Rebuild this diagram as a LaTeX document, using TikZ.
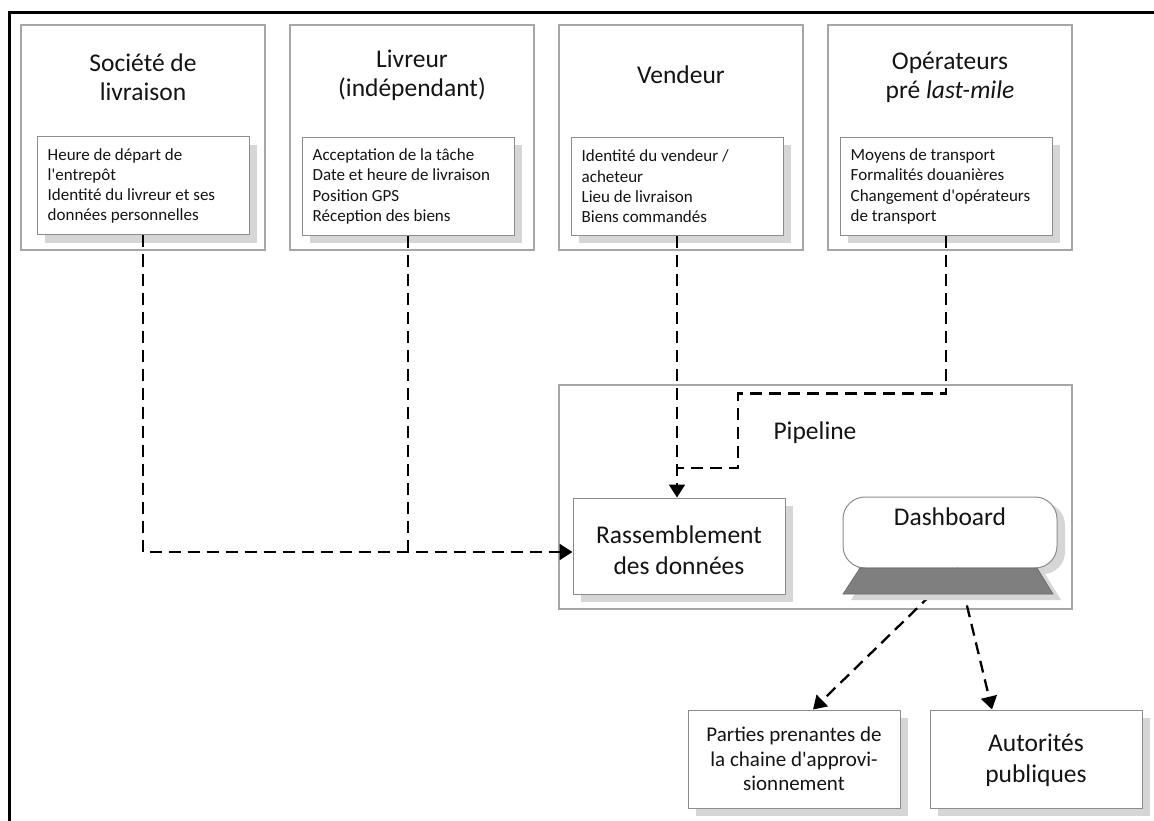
\documentclass[tikz,border=0pt]{standalone}
\usepackage{fontspec}
\setmainfont{Carlito}[Ligatures=TeXOff]
\usetikzlibrary{arrows.meta,shadows,calc}
\definecolor{boxgray}{HTML}{A6A6A6}
\definecolor{innergray}{HTML}{8C8C8C}
\definecolor{shadowgray}{HTML}{D6D6D6}
\definecolor{txt}{HTML}{141414}
\definecolor{trapgray}{HTML}{7F7F7F}
\begin{document}
\begin{tikzpicture}[x=1pt,y=-1pt,
  frame/.style={draw=black, line width=3pt},
  outerbox/.style={draw=boxgray, line width=1.2pt, fill=white, inner sep=0pt, minimum width=244pt, minimum height=225pt},
  innerbox/.style={draw=innergray, line width=1pt, fill=white, inner sep=0pt, minimum width=212pt, minimum height=98pt,
    drop shadow={shadow xshift=8pt, shadow yshift=-8pt, fill=shadowgray, opacity=1}},
  titletext/.style={text=txt, align=center, inner sep=0pt, font=\fontsize{25.5}{29}\selectfont},
  innertext/.style={text=txt, align=left, inner sep=0pt, anchor=west, font=\fontsize{17}{20.3}\selectfont},
  bigtext/.style={text=txt, align=center, inner sep=0pt, font=\fontsize{25.5}{31}\selectfont},
  dline/.style={draw=black, line width=2.3pt, dash pattern=on 12pt off 7pt},
  conn/.style={dline, -{Triangle[length=13pt,width=16pt]}},
]
\useasboundingbox (0,0) rectangle (1154,821);
\fill[white] (0,0) rectangle (1154,821);
\draw[frame] (1154,13) -| (9.5,821);

% top boxes
\node[outerbox] (b1) at (143,137.5) {};
\node[outerbox] (b2) at (412,137.5) {};
\node[outerbox] (b3) at (681,137.5) {};
\node[outerbox] (b4) at (950,137.5) {};

\node[titletext] (t1) at (143,77.5) {Société de\\livraison};
\node[titletext] (t2) at (412,75) {Livreur\\(indépendant)};
\node[titletext] (t3) at (681,75) {Vendeur};
\node[titletext] (t4) at (950,77.5) {Opérateurs\\pré \textit{last-mile}};

\node[innerbox] (i1) at (143,186) {};
\node[innerbox] (i2) at (408,186.5) {};
\node[innerbox] (i3) at (677,186.5) {};
\node[innerbox] (i4) at (946,186.5) {};

\node[innertext] (l1) at ([xshift=11pt]i1.west) {Heure de départ de\\l'entrepôt\\Identité du livreur et ses\\données personnelles};
\node[innertext] (l2) at ([xshift=11pt]i2.west) {Acceptation de la tâche\\Date et heure de livraison\\Position GPS\\Réception des biens};
\node[innertext] (l3) at ([xshift=11pt]i3.west) {Identité du vendeur /\\acheteur\\Lieu de livraison\\Biens commandés};
\node[innertext] (l4) at ([xshift=11pt]i4.west) {Moyens de transport\\Formalités douanières\\Changement d'opérateurs\\de transport};

% pipeline
\node[draw=boxgray, line width=1.2pt, fill=white, minimum width=513pt, minimum height=224pt, inner sep=0pt] (pipe) at (815.5,497) {};
\node[bigtext] (pl) at (815,433) {Pipeline};

\node[innerbox, minimum height=96pt] (rass) at (679,546) {};
\node[bigtext] (rt) at (679,550) {Rassemblement\\des données};

\node[draw=innergray, line width=1pt, fill=white, rounded corners=22pt, minimum width=214pt, minimum height=71pt, inner sep=0pt,
  drop shadow={shadow xshift=8pt, shadow yshift=-6pt, fill=shadowgray, opacity=1}] (dash) at (950,532.5) {};
\node[bigtext] (dt) at (950,517) {Dashboard};

% bottom boxes
\node[innerbox] (pp) at (794,759) {};
\node[text=txt, align=center, inner sep=0pt, font=\fontsize{21}{24.5}\selectfont] (ppt) at (794,759) {Parties prenantes de\\la chaine d'approvi-\\sionnement};
\node[innerbox] (au) at (1036,759) {};
\node[bigtext] (aut) at (1036,760) {Autorités\\publiques};

% connectors
\coordinate (m1) at (408,552);
\draw[conn] (i1.south) |- ([yshift=-6pt]rass.west);
\draw[dline] (i2.south) -- (m1);
\draw[conn] (i3.south) -- (i3.south |- rass.north);
\coordinate (j1) at (738,393.5);
\coordinate (j2) at (677,468);
\draw[dline] (i4.south) |- (j1) |- (j2);

\coordinate (ds) at ([xshift=8pt]dash.south);
\draw[conn] (ds) -- ([xshift=19pt]pp.north);
\draw[conn] (ds) -- ([xshift=-44pt]au.north);

% dashboard base (covers connector starts)
\fill[shadowgray] (868,574) -- (1045,574) -- (1061,600) -- (851,600) -- cycle;
\filldraw[fill=trapgray, draw=trapgray!80!black, line width=0.6pt] (860,568) -- (1037,568) -- (1053,594) -- (843,594) -- cycle;
\end{tikzpicture}
\end{document}
